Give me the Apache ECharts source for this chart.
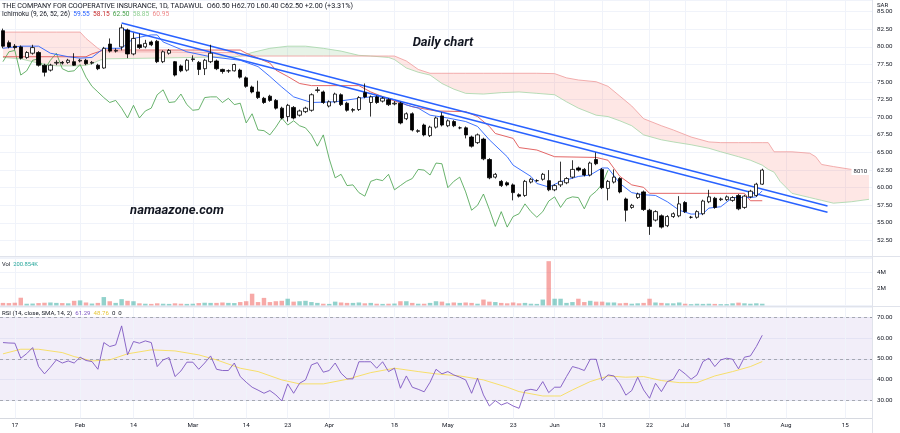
<!DOCTYPE html>
<html><head><meta charset="utf-8">
<script src="https://cdn.jsdelivr.net/npm/echarts/dist/echarts.min.js"></script>
<style>html,body{margin:0;padding:0;background:#fff}#c{width:900px;height:433px}</style>
</head><body><div id="c"></div>
<script>
// ---- data ----
// candles: [open, close, low, high]
const ohlc = [
[82.3,80.1,79.8,82.6],[80.6,80.0,79.8,80.9],[80.1,79.9,79.6,80.4],[80.0,78.4,78.2,80.2],[78.5,79.2,78.3,79.4],
[79.1,79.9,78.9,80.3],[79.2,77.4,77.2,79.4],[77.4,76.4,75.8,77.6],[76.7,77.4,76.5,77.6],[77.7,77.8,77.4,78.1],
[77.8,77.7,77.5,78.0],[77.8,78.1,77.6,78.3],[77.9,77.4,77.3,79.1],[78.0,78.1,77.8,78.3],[78.1,77.6,77.4,78.3],
[77.7,77.8,77.5,78.0],[77.4,76.9,76.7,77.6],[77.0,79.8,76.9,80.0],[80.4,79.4,79.2,81.2],[79.4,79.5,79.2,79.8],
[80.0,82.7,79.5,83.2],[82.4,79.0,78.4,82.6],[79.0,81.2,78.8,82.0],[80.3,79.9,79.7,81.9],[80.0,80.5,79.8,81.0],
[80.7,80.3,80.1,80.9],[80.8,77.9,77.7,81.0],[77.9,79.3,77.7,79.5],[79.1,79.5,78.9,79.7],[77.9,76.0,75.8,78.0],
[77.3,76.6,76.4,77.5],[76.7,78.1,76.5,78.3],[78.2,78.3,77.9,78.8],[77.8,76.8,76.0,78.0],[76.9,78.1,76.0,78.3],
[77.9,79.1,77.7,80.3],[78.0,76.9,76.7,78.2],[76.8,76.5,76.2,76.9],[76.6,76.6,76.3,76.8],[76.6,77.5,76.5,77.6],
[76.7,75.7,75.5,76.9],[75.6,74.4,74.2,75.8],[74.3,73.6,73.4,74.5],[73.6,72.8,72.6,75.2],[72.7,72.1,71.9,72.9],
[73.0,72.4,72.2,73.2],[72.4,71.3,71.1,72.6],[71.3,69.9,69.7,71.5],[70.1,71.7,69.4,71.9],[71.4,69.9,69.7,71.6],
[70.3,70.9,70.1,71.1],[70.8,71.3,70.6,71.5],[71.0,73.2,70.8,73.4],[73.8,73.9,73.5,74.3],[73.6,72.1,71.9,73.8],
[71.6,72.2,71.4,72.4],[72.2,73.3,72.0,73.5],[73.2,71.8,71.6,73.4],[72.0,71.0,70.8,72.2],[71.0,71.1,70.7,71.3],
[71.1,72.8,70.9,73.0],[73.5,72.9,72.7,74.8],[72.1,72.9,70.1,73.1],[72.9,72.1,71.9,73.1],[72.3,72.7,72.1,72.9],
[72.5,71.8,71.6,72.7],[71.9,72.0,71.7,72.3],[72.0,69.2,69.0,72.2],[69.8,70.5,69.6,70.7],[70.5,68.2,68.0,70.7],
[68.0,68.1,67.8,68.3],[68.9,67.5,67.3,69.1],[67.4,68.6,67.2,68.8],[68.6,69.9,68.4,70.1],[70.2,68.9,68.7,70.7],
[68.8,69.5,68.6,69.7],[69.4,68.8,68.6,69.6],[68.5,68.5,68.3,68.7],[68.5,67.5,67.0,68.7],[67.2,65.9,65.7,67.4],
[66.4,67.5,66.2,67.7],[66.9,64.1,63.9,67.1],[64.0,61.4,61.2,64.2],[61.5,61.9,61.3,62.1],[60.9,60.3,60.1,61.1],
[60.7,60.4,60.2,60.9],[60.4,59.3,58.2,60.6],[59.0,58.8,58.6,59.2],[58.9,60.9,58.7,61.1],[60.8,61.2,60.6,61.4],
[61.0,61.0,60.8,61.2],[61.2,61.9,61.0,62.1],[61.0,59.7,59.5,62.5],[59.7,60.3,59.5,60.5],[60.4,60.9,60.1,63.7],
[60.7,61.3,60.5,61.5],[61.5,62.6,61.3,63.9],[62.8,62.5,62.3,63.0],[62.6,61.8,61.6,62.8],[61.8,63.5,61.6,63.7],
[64.0,63.4,63.2,65.0],[62.6,60.0,59.8,62.8],[59.9,60.9,58.2,61.1],[60.8,61.5,60.6,62.6],[61.3,59.4,59.2,61.5],
[58.4,56.8,55.2,58.6],[57.2,57.5,57.0,57.7],[58.6,59.1,58.4,59.3],[59.4,56.9,56.7,59.6],[56.8,54.5,53.3,57.0],
[55.4,56.6,55.2,56.8],[56.0,54.4,54.2,56.2],[54.6,55.9,54.4,56.1],[55.9,56.3,55.7,56.5],[56.0,57.7,55.8,58.8],
[57.9,56.6,56.4,58.1],[55.8,55.8,55.6,56.0],[55.8,56.6,55.6,56.8],[56.3,58.1,56.1,58.3],[58.0,58.7,57.8,59.7],
[58.5,57.2,57.0,58.7],[58.3,58.4,58.1,58.6],[58.3,58.7,58.1,58.9],[58.2,58.6,58.0,58.8],[58.9,57.0,56.8,59.1],
[57.2,58.8,57.0,59.0],[58.7,59.5,58.5,59.7],[58.9,60.5,58.7,60.7],[60.5,62.5,60.4,62.7]
];
// volume in millions
const volume = [
0.30,0.28,0.32,0.92,0.20,0.22,0.28,0.32,0.35,0.30, 0.28,0.25,0.55,0.60,0.35,0.22,0.30,1.00,0.50,0.30,
0.75,0.55,0.50,0.25,0.20,0.18,0.25,0.20,0.18,0.25, 0.20,0.18,0.20,0.28,0.32,0.30,0.30,0.35,0.30,0.28,
0.40,0.50,1.40,0.40,0.90,0.40,0.50,0.55,0.80,0.45, 0.50,0.55,0.40,0.30,0.20,0.18,0.45,0.35,0.30,0.30,
0.35,0.25,0.30,0.20,0.18,0.20,0.22,0.50,0.50,0.30, 0.20,0.20,0.30,0.50,0.45,0.25,0.35,0.30,0.35,0.30,
0.20,0.70,0.45,0.40,0.30,0.25,0.35,0.25,0.30,0.20, 0.18,0.70,5.30,0.80,0.80,0.30,0.40,0.80,0.40,0.55,
0.45,0.45,0.35,0.35,0.25,0.30,0.20,0.25,0.30,0.80, 0.35,0.30,0.25,0.25,0.35,0.20,0.15,0.20,0.18,0.20,
0.18,0.15,0.15,0.25,0.33,0.25,0.20,0.25,0.20
];
const rsi = [
57.8,57.6,57.5,50.3,52.5,55.4,46.3,42.8,46.0,49.5, 48.0,49.0,48.0,50.8,49.2,48.7,45.0,57.8,55.9,56.7,
65.8,51.9,58.3,57.5,58.6,57.8,46.3,49.5,50.6,41.5, 44.2,48.4,48.4,45.0,48.0,51.4,45.0,44.4,44.4,48.0,
41.5,38.8,36.4,35.0,33.5,34.8,32.7,29.8,38.0,33.5, 38.3,39.9,47.1,48.2,43.6,44.4,48.0,43.1,40.4,40.4,
48.6,48.6,48.6,45.5,48.6,43.9,45.5,35.9,41.8,36.4, 35.4,34.2,38.8,45.0,42.8,43.9,42.3,41.2,39.9,33.5,
40.7,32.7,27.4,30.0,27.9,29.0,27.4,26.3,34.8,35.4, 34.8,39.1,33.8,36.4,36.4,41.5,46.3,45.5,44.4,49.8,
49.8,39.6,42.3,41.8,38.0,32.6,34.8,41.2,35.1,31.1, 38.3,34.3,39.1,40.2,45.0,42.8,40.2,42.3,48.7,50.3,
46.3,49.5,50.3,49.8,45.2,50.8,51.4,55.9,61.3
];
// RSI moving average, read as [bar, value] vertices
const rsiSma = [[0,52.4],[3,54.6],[6,54.6],[10,53],[12,51.1],[15,49],[18,49.5],[21,52.4],[25,54.3],[29,53.8],[33,51.9],[36,49.5],[40,45.5],[43,43.9],[47,39.9],[50,38],[54,38],[58,40.2],[62,43.4],[66,45.5],[70,43.9],[73,42.8],[77,41.8],[81,39.9],[85,36.4],[87,34.3],[91,32.2],[94,32.2],[96,35.1],[99,39.1],[102,41.8],[105,41.2],[108,41.5],[111,39.6],[114,38.6],[117,38.6],[120,41.8],[123,43.9],[126,46.3],[128,48.7]];
// Ichimoku lines read as [bar, value] vertices
const tenkan = [[0,79.8],[3,80.1],[6,80.1],[8,79.1],[11,78.6],[13,78.4],[15,78.5],[17,79.8],[20,79.8],[22,81.2],[25,81.7],[26,81.7],[27,80.7],[29,80.0],[31,79.3],[35,78.6],[40,78.1],[43,77.2],[45,75.8],[47,74.3],[49,72.9],[52,72.1],[56,72.2],[60,72.7],[63,73.0],[66,72.5],[68,71.75],[70,71.3],[72,70.3],[75,69.9],[78,69.4],[80,68.7],[82,66.8],[85,64.4],[86,63.2],[89,61.6],[90,60.6],[92,60.1],[94,60.85],[97,61.6],[99,61.8],[101,62.8],[102,62.8],[104,60.6],[106,59.3],[108,59.0],[110,58.9],[112,58.0],[114,56.8],[116,56.25],[118,56.3],[119,57.1],[121,57.3],[123,58.6],[126,58.6],[127,58.7],[128,59.55]];
const kijun = [[0,78.6],[14,78.6],[15,79.0],[17,79.55],[40,79.55],[41,79.1],[43,78.4],[45,77.7],[46,76.7],[48,75.8],[50,74.8],[52,74.5],[60,74.5],[62,73.6],[65,72.6],[69,71.5],[73,70.9],[78,70.8],[80,70.1],[82,68.7],[83,67.7],[86,67.0],[87,65.7],[90,65.35],[93,64.4],[100,64.3],[102,63.9],[104,61.6],[106,60.4],[108,60.05],[109,59.2],[125,59.2],[126,58.15],[128,58.15]];
const cloudIdx = [0,3,6,9,13,14,15,16,17,25,39,40,42,45,48,51,54,57,60,62,65,66,68,70,72,74,76,78,81,84,87,90,93,95,97,100,102,104,106,108,111,113,116,119,121,124,126,128,129,130,131,133,136,137,138,140,143,146];
const spanA = [78.5,78.3,77.7,77.3,77.3,77.4,77.6,78.0,78.3,78.4,78.6,78.7,79.2,79.8,80.1,80.1,79.8,79.4,78.8,78.7,78.5,78.2,77.0,76.4,76.0,74.8,74.0,73.4,73.3,73.5,73.6,73.4,73.2,72.2,71.3,70.3,70.1,69.5,68.8,67.5,66.8,66.5,66.1,65.6,65.1,64.4,63.9,63.2,62.6,62.2,60.9,59.2,58.6,58.4,58.2,57.8,58.0,58.35];
const spanB = [82.1,82.1,82.1,82.1,82.1,81.2,80.5,79.8,79.3,79.3,79.2,78.7,78.7,78.7,78.7,78.7,78.7,78.7,78.7,78.7,78.7,78.7,78.0,76.8,76.25,76.25,76.25,76.25,76.25,76.25,76.25,76.25,76.2,75.6,75.3,75.05,74.4,73.0,71.6,69.8,68.8,68.2,67.2,66.5,66.4,66.4,66.4,66.4,66.4,65.1,65.1,65.1,64.9,64.4,63.3,63.0,62.6,62.3];
const trendUpper = [[20,83.4],[139,57.4]];
const trendLower = [[20,82.55],[139,56.5]];
const xTicks = [[2,'17'],[13,'Feb'],[22,'14'],[32,'Mar'],[41,'14'],[48,'23'],[55,'Apr'],[66,'18'],[75,'May'],[86,'23'],[93,'Jun'],[101,'13'],[109,'22'],[115,'Jul'],[122,'18'],[132,'Aug'],[142,'15']];
const N_SLOTS = 147;

// ---- build ----
const categories = Array.from({length: N_SLOTS}, (_, i) => 'b' + i);
const labelMap = new Map(xTicks);
const FONT = 'Roboto, "Liberation Sans", sans-serif';
const TXT = '#131722';
const GRIDC = '#f0f3fa';
const UPV = 'rgba(38,166,154,0.5)', DNV = 'rgba(239,83,80,0.5)';

const chikou = ohlc.slice(26).map((d, k) => [k, d[1]]);

// cloud runs of same colour
const runs = [];
(function(){
  const col = k => (spanA[k] + spanA[k+1] >= spanB[k] + spanB[k+1]) ? 'g' : 'r';
  let start = 0, cur = col(0);
  for (let k = 1; k < cloudIdx.length - 1; k++) {
    const c = col(k);
    if (c !== cur) { runs.push([start, k, cur]); start = k; cur = c; }
  }
  runs.push([start, cloudIdx.length - 1, cur]);
})();

const vGrid = (z) => ({
  silent: true, symbol: 'none', z: z, label: {show: false},
  lineStyle: {color: GRIDC, width: 1, type: 'solid'},
  emphasis: {disabled: true},
  data: xTicks.map(t => ({xAxis: categories[t[0]]}))
});

const gridL = -3, gridW = 875;
const chart = echarts.init(document.getElementById('c'), null, {renderer: 'canvas'});
const axisLbl = {fontSize: 6.2, color: TXT, fontFamily: FONT, margin: 5};

const option = {
  animation: false,
  backgroundColor: '#ffffff',
  textStyle: {fontFamily: FONT},
  grid: [
    {left: gridL, width: gridW, top: 0, height: 258.1},
    {left: gridL, width: gridW, top: 257, height: 48.4},
    {left: gridL, width: gridW, top: 306.9, height: 111.4}
  ],
  xAxis: [0, 1, 2].map(g => ({
    type: 'category', gridIndex: g, data: categories, boundaryGap: true,
    axisLine: {show: g === 2, lineStyle: {color: '#d6d9e0'}},
    axisTick: {show: false},
    axisPointer: {show: false},
    axisLabel: Object.assign({show: g === 2, interval: 0, formatter: (v, i) => labelMap.get(i) || ''}, axisLbl, {margin: 4}),
    splitLine: {show: false}
  })),
  yAxis: [
    {type: 'value', gridIndex: 0, position: 'right', min: 50, max: 86.66, interval: 2.5,
     axisLine: {show: false}, axisTick: {show: false},
     axisLabel: Object.assign({formatter: v => (v >= 52.4 && v <= 85.1) ? v.toFixed(2) : ''}, axisLbl),
     splitLine: {lineStyle: {color: GRIDC}}},
    {type: 'value', gridIndex: 1, position: 'right', min: 0, max: 5.8, interval: 2,
     axisLine: {show: false}, axisTick: {show: false},
     axisLabel: Object.assign({formatter: v => v === 2 ? '2M' : (v === 4 ? '4M' : '')}, axisLbl),
     splitLine: {lineStyle: {color: GRIDC}}},
    {type: 'value', gridIndex: 2, position: 'right', min: 21.5, max: 74.9, splitNumber: 5,
     axisLine: {show: false}, axisTick: {show: false},
     axisLabel: Object.assign({formatter: v => (v >= 30 && v <= 70 && Math.abs(v % 10) < 1e-6) ? v.toFixed(2) : ''}, axisLbl),
     splitLine: {lineStyle: {color: GRIDC}}}
  ],
  series: [
    {type: 'custom', name: 'cloud', xAxisIndex: 0, yAxisIndex: 0, z: 1, clip: true, silent: true,
     data: runs.map(r => [cloudIdx[r[0]], spanA[r[0]]]),
     encode: {x: 0, y: 1},
     renderItem: function(params, api) {
       const r = runs[params.dataIndex];
       const pts = [];
       for (let k = r[0]; k <= r[1]; k++) pts.push(api.coord([cloudIdx[k], spanA[k]]));
       for (let k = r[1]; k >= r[0]; k--) pts.push(api.coord([cloudIdx[k], spanB[k]]));
       return {type: 'polygon', shape: {points: pts},
         style: {fill: r[2] === 'g' ? 'rgba(67,160,71,0.13)' : 'rgba(244,67,54,0.13)'}};
     }},
    {type: 'line', name: 'spanA', xAxisIndex: 0, yAxisIndex: 0, z: 2, showSymbol: false, silent: true,
     data: cloudIdx.map((x, k) => [x, spanA[k]]), lineStyle: {color: '#a5d6a7', width: 0.8},
     markLine: vGrid(0)},
    {type: 'line', name: 'spanB', xAxisIndex: 0, yAxisIndex: 0, z: 2, showSymbol: false, silent: true,
     data: cloudIdx.map((x, k) => [x, spanB[k]]), lineStyle: {color: '#ef9a9a', width: 0.8}},
    {type: 'line', name: 'lagging', xAxisIndex: 0, yAxisIndex: 0, z: 3, showSymbol: false, silent: true,
     data: chikou, lineStyle: {color: '#43a047', width: 0.8}},
    {type: 'line', name: 'kijun', xAxisIndex: 0, yAxisIndex: 0, z: 3, showSymbol: false, silent: true,
     data: kijun, lineStyle: {color: '#e05555', width: 0.9}},
    {type: 'line', name: 'tenkan', xAxisIndex: 0, yAxisIndex: 0, z: 3, showSymbol: false, silent: true,
     data: tenkan, lineStyle: {color: '#2962ff', width: 0.9}},
    {type: 'line', name: 'trend1', xAxisIndex: 0, yAxisIndex: 0, z: 4, showSymbol: false, silent: true,
     data: trendUpper, lineStyle: {color: '#2962ff', width: 1.5}},
    {type: 'line', name: 'trend2', xAxisIndex: 0, yAxisIndex: 0, z: 4, showSymbol: false, silent: true,
     data: trendLower, lineStyle: {color: '#2962ff', width: 1.5}},
    {type: 'candlestick', name: 'price', xAxisIndex: 0, yAxisIndex: 0, z: 5, silent: true,
     data: ohlc, barWidth: 3.8,
     itemStyle: {color: '#ffffff', color0: '#000000', borderColor: '#000000', borderColor0: '#000000', borderWidth: 0.8}},
    {type: 'bar', name: 'vol', xAxisIndex: 1, yAxisIndex: 1, z: 2, silent: true, barWidth: '75%',
     data: volume.map((v, i) => ({value: v, itemStyle: {color: ohlc[i][1] >= ohlc[i][0] ? UPV : DNV}})),
     markLine: vGrid(0)},
    {type: 'line', name: 'rsi', xAxisIndex: 2, yAxisIndex: 2, z: 4, showSymbol: false, silent: true,
     data: rsi, lineStyle: {color: '#7e57c2', width: 0.9},
     markArea: {silent: true, z: 0, itemStyle: {color: 'rgba(126,87,194,0.1)'},
       data: [[{yAxis: 30}, {yAxis: 70}]]},
     markLine: {silent: true, symbol: 'none', z: 1, label: {show: false}, emphasis: {disabled: true},
       data: xTicks.map(t => ({xAxis: categories[t[0]], lineStyle: {color: GRIDC, width: 1, type: 'solid'}}))
         .concat([70, 50, 30].map(v => ({yAxis: v, lineStyle: {color: '#9598a1', width: 0.8, type: [3, 3]}})))}},
    {type: 'line', name: 'rsiSma', xAxisIndex: 2, yAxisIndex: 2, z: 3, showSymbol: false, silent: true,
     data: rsiSma, lineStyle: {color: '#f7dc5a', width: 0.9}}
  ],
  graphic: [
    {type: 'line', silent: true, z: 50, shape: {x1: 0, y1: 256.5, x2: 900, y2: 256.5}, style: {stroke: '#e0e3eb', lineWidth: 1}},
    {type: 'line', silent: true, z: 50, shape: {x1: 0, y1: 306.5, x2: 900, y2: 306.5}, style: {stroke: '#e0e3eb', lineWidth: 1}},
    {type: 'line', silent: true, z: 50, shape: {x1: 872.5, y1: 0, x2: 872.5, y2: 433}, style: {stroke: '#e0e3eb', lineWidth: 1}},
    {type: 'text', silent: true, z: 60, x: 2, y: 5.8, style: {
      text: '{a|THE COMPANY FOR COOPERATIVE INSURANCE, 1D, TADAWUL}{a|  O60.50 H62.70 L60.40 C62.50 +2.00 (+3.31%)}',
      verticalAlign: 'middle', align: 'left',
      rich: {a: {fill: TXT, fontSize: 7.2, fontFamily: FONT}}}},
    {type: 'text', silent: true, z: 60, x: 2, y: 14.7, style: {
      text: '{a|Ichimoku (9, 26, 52, 26)}{b|  59.55}{c|  58.15}{d|  62.50}{e|  58.85}{f|  60.95}',
      verticalAlign: 'middle', align: 'left',
      rich: {a: {fill: TXT, fontSize: 6.6, fontFamily: FONT}, b: {fill: '#2962ff', fontSize: 6.6, fontFamily: FONT},
             c: {fill: '#c62828', fontSize: 6.6, fontFamily: FONT}, d: {fill: '#43a047', fontSize: 6.6, fontFamily: FONT},
             e: {fill: '#8fcf92', fontSize: 6.6, fontFamily: FONT}, f: {fill: '#ef8a8a', fontSize: 6.6, fontFamily: FONT}}}},
    {type: 'text', silent: true, z: 60, x: 2, y: 264.5, style: {
      text: '{a|Vol}{b|  200.854K}', verticalAlign: 'middle', align: 'left',
      rich: {a: {fill: TXT, fontSize: 5.8, fontFamily: FONT}, b: {fill: '#26a69a', fontSize: 5.8, fontFamily: FONT}}}},
    {type: 'text', silent: true, z: 60, x: 2, y: 313.3, style: {
      text: '{a|RSI (14, close, SMA, 14, 2)}{b|  61.29}{c|  48.76}{a|  0  0}', verticalAlign: 'middle', align: 'left',
      rich: {a: {fill: TXT, fontSize: 6.1, fontFamily: FONT}, b: {fill: '#7e57c2', fontSize: 6.1, fontFamily: FONT},
             c: {fill: '#e6c63a', fontSize: 6.1, fontFamily: FONT}}}},
    {type: 'text', silent: true, z: 60, x: 443, y: 43, style: {
      text: 'Daily chart', verticalAlign: 'middle', align: 'center',
      font: 'italic bold 13px ' + FONT, fill: '#131722'}},
    {type: 'text', silent: true, z: 60, x: 177, y: 211, style: {
      text: 'namaazone.com', verticalAlign: 'middle', align: 'center',
      font: 'italic bold 13px ' + FONT, fill: '#131722'}},
    {type: 'text', silent: true, z: 60, x: 869, y: 171, style: {
      text: '8010', verticalAlign: 'middle', align: 'right', fontSize: 6, fontFamily: FONT, fill: TXT,
      backgroundColor: '#ffffff', padding: [1, 2]}},
    {type: 'text', silent: true, z: 60, x: 877, y: 5, style: {
      text: 'SAR', verticalAlign: 'middle', align: 'left', fontSize: 6, fontFamily: FONT, fill: TXT,
      backgroundColor: '#ffffff', padding: [1, 8, 1, 0]}}
  ]
};
chart.setOption(option);
</script>
</body></html>
